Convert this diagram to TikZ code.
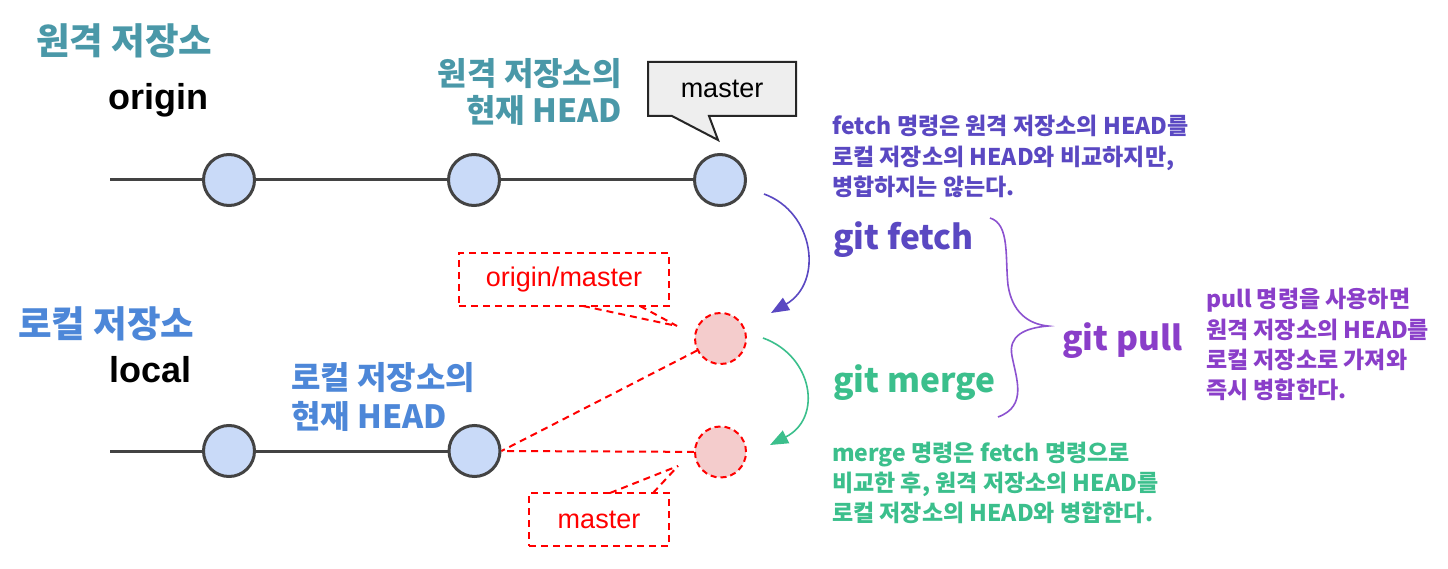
\documentclass[tikz,border=0pt]{standalone}
\usepackage{fontspec}
\setmainfont{Liberation Sans}
\newfontfamily\kr{Noto Sans CJK KR}
\usetikzlibrary{arrows.meta}
\definecolor{linegray}{HTML}{434343}
\definecolor{commitblue}{HTML}{C9DAF8}
\definecolor{rpink}{HTML}{F4CCCC}
\definecolor{teal}{HTML}{4A98A8}
\definecolor{lblue}{HTML}{4D87D8}
\definecolor{fpurple}{HTML}{5A48C2}
\definecolor{mgreen}{HTML}{3BBF8C}
\definecolor{ppurple}{HTML}{8A3EC9}
\definecolor{bpurple}{HTML}{8C52D0}
\definecolor{calloutgray}{HTML}{EEEEEE}
\tikzset{
  mainline/.style={draw=linegray, line width=3pt},
  commit/.style={circle, draw=linegray, line width=3pt, fill=commitblue, minimum size=51pt, inner sep=0pt},
  rcommit/.style={circle, draw=red, dash pattern=on 6pt off 4pt, line width=2pt, fill=rpink, minimum size=51pt, inner sep=0pt},
  rbox/.style={draw=red, line width=2pt, dash pattern=on 7pt off 5pt, text=red, font=\fontsize{27}{30}\selectfont, inner sep=0pt},
  rdash/.style={draw=red, line width=2pt, dash pattern=on 7pt off 5pt},
  lbl/.style={inner sep=0pt, anchor=base west},
  lblr/.style={inner sep=0pt, anchor=base east},
  title/.style={font=\kr\bfseries\fontsize{36.5}{42}\selectfont},
  head/.style={font=\kr\bfseries\fontsize{32}{38}\selectfont},
  desc/.style={font=\kr\bfseries\fontsize{23}{30}\selectfont},
  cmd/.style={font=\kr\bfseries\fontsize{33.5}{40}\selectfont},
  latin/.style={font=\bfseries\fontsize{36}{40}\selectfont},
}
\begin{document}
\begin{tikzpicture}[x=1pt,y=-1pt]
\useasboundingbox (0,0) rectangle (1448,569);
\fill[white] (0,0) rectangle (1448,569);

% titles
\node[lbl, title, text=teal] (t1) at (36,55) {원격 저장소};
\node[lbl, latin] (t1o) at (108,110) {origin};
\node[lbl, title, text=lblue] (t2) at (18,337) {로컬 저장소};
\node[lbl, latin] (t2l) at (109,382) {local};

% head labels
\node[lblr, head, text=teal] (h1a) at (622,86) {원격 저장소의};
\node[lblr, head, text=teal] (h1b) at (622,123) {현재 HEAD};
\node[lbl, head, text=lblue] (h2a) at (291,389) {로컬 저장소의};
\node[lbl, head, text=lblue] (h2b) at (291,428) {현재 HEAD};

% commits
\coordinate (os) at (110,180);
\coordinate (ls) at (110,451);
\node[commit] (a1) at (229,180) {};
\node[commit] (a2) at (474,180) {};
\node[commit] (a3) at (720,180) {};
\node[commit] (b1) at (229,451) {};
\node[commit] (b2) at (474.5,451) {};
\node[rcommit] (r1) at (720.5,338.5) {};
\node[rcommit] (r2) at (720.5,452) {};
\draw[mainline] (os) -- (a1) (a1) -- (a2) (a2) -- (a3);
\draw[mainline] (ls) -- (b1) (b1) -- (b2);

% master callout (remote)
\filldraw[fill=calloutgray, draw=black!85, line width=2pt]
  (648,62) -- (796,62) -- (796,116) -- (709,116) -- (718,140) -- (672,116) -- (648,116) -- cycle;
\node[inner sep=0pt, font=\fontsize{27}{30}\selectfont] (mc) at (722,89) {master};

% dashed red boxes
\node[rbox, minimum width=210pt, minimum height=53pt] (om) at (564,279.5) {origin/master};
\node[rbox, minimum width=140pt, minimum height=53pt] (lm) at (599,519.5) {master};
\coordinate (omtip) at (677,326);
\coordinate (lmtip) at (678,466);
\draw[rdash] (583,306) -- (omtip);
\draw[rdash] (640,306) -- (omtip);
\draw[rdash] (610,493) -- (lmtip);
\draw[rdash] (653,493) -- (lmtip);
\draw[rdash] (r1) -- (b2.east);
\draw[rdash] (r2) -- (b2.east);

% fetch / merge arrows
\coordinate (fs) at (764,194);
\coordinate (fe) at (771,313);
\coordinate (ms) at (763,338);
\coordinate (me) at (770,445);
\draw[draw=fpurple, line width=1.6pt, -{Triangle[length=18pt,width=14pt]}]
  (fs) .. controls (814,212) and (824,282) .. (fe);
\draw[draw=mgreen, line width=1.6pt, -{Triangle[length=18pt,width=14pt]}]
  (ms) .. controls (813,356) and (823,418) .. (me);

% commands
\node[lbl, cmd, text=fpurple] (gf) at (833,250) {git fetch};
\node[lbl, cmd, text=mgreen] (gm) at (833,392) {git merge};
\node[lbl, cmd, text=ppurple] (gp) at (1062,350) {git pull};

% brace
\draw[draw=bpurple, line width=1.6pt]
  (990,218) .. controls (1010,224) and (1005,258) .. (1008,285)
  .. controls (1012,312) and (1028,324) .. (1048,326)
  .. controls (1024,328) and (1008,336) .. (1012,356)
  .. controls (1016,378) and (1028,406) .. (998,417);

% descriptions
\node[lbl, desc, text=fpurple] (fd1) at (832,135) {fetch 명령은 원격 저장소의 HEAD를};
\node[lbl, desc, text=fpurple] (fd2) at (832,166) {로컬 저장소의 HEAD와 비교하지만,};
\node[lbl, desc, text=fpurple] (fd3) at (832,196) {병합하지는 않는다.};

\node[lbl, desc, text=ppurple] (pd1) at (1206,308) {pull 명령을 사용하면};
\node[lbl, desc, text=ppurple] (pd2) at (1206,338) {원격 저장소의 HEAD를};
\node[lbl, desc, text=ppurple] (pd3) at (1206,368) {로컬 저장소로 가져와};
\node[lbl, desc, text=ppurple] (pd4) at (1206,398) {즉시 병합한다.};

\node[lbl, desc, text=mgreen] (md1) at (832,461) {merge 명령은 fetch 명령으로};
\node[lbl, desc, text=mgreen] (md2) at (832,491) {비교한 후, 원격 저장소의 HEAD를};
\node[lbl, desc, text=mgreen] (md3) at (832,521) {로컬 저장소의 HEAD와 병합한다.};
\end{tikzpicture}
\end{document}
